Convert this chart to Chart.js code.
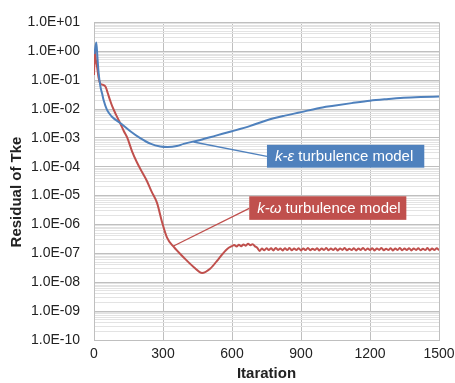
<!DOCTYPE html>
<html>
<head>
<meta charset="utf-8">
<script src="https://cdn.jsdelivr.net/npm/chart.js@4.4.1/dist/chart.umd.min.js"></script>
<style>
  body { margin: 0; background: #fff; }
  #wrap { width: 455px; height: 383px; }
</style>
</head>
<body>
<div id="wrap"><canvas id="residualChart"></canvas></div>
<script>
// k-epsilon residuals
const keIter = [2, 10, 15, 20, 28, 35, 42, 56, 78, 114, 158, 201, 245, 288, 320, 360, 390, 462, 530, 600,
  680, 752, 830, 900, 970, 1042, 1120, 1200, 1270, 1346, 1420, 1500];
const keVal = [0.8, 2.0, 0.6, 0.18, 0.06, 0.035, 0.02, 0.0095, 0.0054, 0.0033, 0.0017, 0.00098, 0.00063, 0.0005, 0.00048, 0.00052, 0.00062, 0.00085, 0.0012, 0.0017,
  0.0026, 0.0041, 0.0059, 0.0078, 0.0105, 0.013, 0.016, 0.0195, 0.022, 0.0245, 0.026, 0.027];

// k-omega residuals
const kwIter = [0, 4, 8, 13, 20, 28, 36, 45, 52, 60, 70, 80, 95, 114, 130, 145, 165, 187, 210, 230,
  250, 274, 296, 317, 346, 390, 433, 470, 506, 542, 578,
  600, 610, 620, 630, 640, 650, 660, 670, 680, 690, 700, 710, 720, 730, 740, 750, 760, 770, 780, 790,
  800, 810, 820, 830, 840, 850, 860, 870, 880, 890, 900, 910, 920, 930, 940, 950, 960, 970, 980, 990,
  1000, 1010, 1020, 1030, 1040, 1050, 1060, 1070, 1080, 1090, 1100, 1110, 1120, 1130, 1140, 1150, 1160, 1170, 1180, 1190,
  1200, 1210, 1220, 1230, 1240, 1250, 1260, 1270, 1280, 1290, 1300, 1310, 1320, 1330, 1340, 1350, 1360, 1370, 1380, 1390,
  1400, 1410, 1420, 1430, 1440, 1450, 1460, 1470, 1480, 1490, 1500];
const kwVal = [0.15, 1.1, 0.5, 0.3, 0.12, 0.075, 0.07, 0.065, 0.055, 0.035, 0.02, 0.012, 0.0065, 0.0032, 0.0017, 0.001, 0.00035, 0.00014, 6.3e-5, 3.2e-5,
  1.4e-5, 5.6e-6, 1.2e-6, 3.6e-7, 1.7e-7, 7.2e-8, 3.4e-8, 2.1e-8, 3.0e-8, 6.5e-8, 1.4e-7,
  1.80e-7, 1.95e-7, 1.72e-7, 2.00e-7, 1.78e-7, 2.05e-7, 1.85e-7, 2.15e-7, 1.92e-7, 2.08e-7, 1.75e-7, 1.55e-7, 1.22e-7, 1.48e-7, 1.28e-7, 1.52e-7, 1.30e-7, 1.50e-7, 1.27e-7, 1.55e-7,
  1.32e-7, 1.48e-7, 1.26e-7, 1.50e-7, 1.30e-7, 1.53e-7, 1.28e-7, 1.47e-7, 1.31e-7, 1.52e-7, 1.27e-7, 1.49e-7, 1.30e-7, 1.55e-7, 1.28e-7, 1.46e-7, 1.32e-7, 1.51e-7, 1.27e-7, 1.48e-7,
  1.30e-7, 1.54e-7, 1.29e-7, 1.47e-7, 1.31e-7, 1.50e-7, 1.26e-7, 1.49e-7, 1.32e-7, 1.53e-7, 1.28e-7, 1.46e-7, 1.30e-7, 1.52e-7, 1.27e-7, 1.48e-7, 1.31e-7, 1.55e-7, 1.29e-7, 1.47e-7,
  1.30e-7, 1.51e-7, 1.27e-7, 1.49e-7, 1.32e-7, 1.53e-7, 1.28e-7, 1.46e-7, 1.30e-7, 1.50e-7, 1.26e-7, 1.48e-7, 1.31e-7, 1.54e-7, 1.29e-7, 1.47e-7, 1.30e-7, 1.52e-7, 1.27e-7, 1.49e-7,
  1.32e-7, 1.51e-7, 1.28e-7, 1.46e-7, 1.30e-7, 1.53e-7, 1.27e-7, 1.48e-7, 1.31e-7, 1.50e-7, 1.29e-7];

// y axis decades and their labels
const yExps = [-10, -9, -8, -7, -6, -5, -4, -3, -2, -1, 0, 1];
const yLabels = ['1.0E-10', '1.0E-09', '1.0E-08', '1.0E-07', '1.0E-06', '1.0E-05', '1.0E-04', '1.0E-03', '1.0E-02', '1.0E-01', '1.0E+00', '1.0E+01'];
const xTicks = [0, 300, 600, 900, 1200, 1500];

const BLUE = '#4F81BD';
const RED = '#C0504D';
const FONT = '"Liberation Sans", Arial, sans-serif';

// callout boxes, positioned in data units
const callouts = [
  { italic: 'k-\u03b5', rest: ' turbulence model', color: BLUE, x0: 752, x1: 1436, yTop: 5.75e-4, yBot: 9.3e-5, from: [752, 2.3e-4], to: [433, 7.2e-4] },
  { italic: 'k-\u03c9', rest: ' turbulence model', color: RED, x0: 675, x1: 1358, yTop: 9.5e-6, yBot: 1.45e-6, from: [675, 3.6e-6], to: [346, 1.8e-7] }
];

function isDecade(v) {
  const e = Math.log10(v);
  return Math.abs(e - Math.round(e)) < 1e-6;
}

const calloutPlugin = {
  id: 'callouts',
  afterDatasetsDraw(chart) {
    const ctx = chart.ctx;
    const xs = chart.scales.x, ys = chart.scales.y;
    callouts.forEach(c => {
      ctx.save();
      ctx.strokeStyle = c.color;
      ctx.lineWidth = 1.3;
      ctx.beginPath();
      ctx.moveTo(xs.getPixelForValue(c.from[0]), ys.getPixelForValue(c.from[1]));
      ctx.lineTo(xs.getPixelForValue(c.to[0]), ys.getPixelForValue(c.to[1]));
      ctx.stroke();
      const l = xs.getPixelForValue(c.x0), r = xs.getPixelForValue(c.x1);
      const t = ys.getPixelForValue(c.yTop), b = ys.getPixelForValue(c.yBot);
      ctx.fillStyle = c.color;
      ctx.fillRect(l, t, r - l, b - t);
      ctx.fillStyle = '#fff';
      ctx.textBaseline = 'middle';
      ctx.font = 'italic 15px ' + FONT;
      const ty = (t + b) / 2 + 1;
      ctx.fillText(c.italic, l + 8, ty);
      const w = ctx.measureText(c.italic).width;
      ctx.font = '15px ' + FONT;
      ctx.fillText(c.rest, l + 8 + w, ty);
      ctx.restore();
    });
    // y axis title, a bit below the axis centre as in the original
    ctx.save();
    ctx.translate(17, 192);
    ctx.rotate(-Math.PI / 2);
    ctx.fillStyle = '#222';
    ctx.font = 'bold 15px ' + FONT;
    ctx.textAlign = 'center';
    ctx.textBaseline = 'middle';
    ctx.fillText('Residual of Tke', 0, 0);
    ctx.restore();
  }
};

new Chart(document.getElementById('residualChart'), {
  type: 'line',
  data: {
    datasets: [{
      label: 'k-\u03b5 turbulence model',
      data: keIter.map((x, i) => ({ x: x, y: keVal[i] })),
      borderColor: BLUE,
      borderWidth: 2,
      pointRadius: 0,
      cubicInterpolationMode: 'monotone'
    }, {
      label: 'k-\u03c9 turbulence model',
      data: kwIter.map((x, i) => ({ x: x, y: kwVal[i] })),
      borderColor: RED,
      borderWidth: 2,
      pointRadius: 0,
      cubicInterpolationMode: 'monotone'
    }]
  },
  options: {
    responsive: true,
    maintainAspectRatio: false,
    animation: false,
    layout: { padding: { top: 15, right: 16, left: 0, bottom: 0 } },
    plugins: { legend: { display: false }, tooltip: { enabled: false } },
    scales: {
      x: {
        type: 'linear',
        min: 0,
        max: 1500,
        afterBuildTicks: s => { s.ticks = xTicks.map(v => ({ value: v })); },
        afterFit: s => { s.height = 43; s.paddingRight = 0; s.paddingLeft = 0; },
        grid: { color: '#bfbfbf', drawTicks: false },
        border: { color: '#bfbfbf' },
        ticks: { padding: 6, color: '#222', font: { family: FONT, size: 14 }, callback: v => String(v) },
        title: { display: true, text: 'Itaration', color: '#222', padding: 0, font: { family: FONT, size: 15, weight: 'bold' } }
      },
      y: {
        type: 'logarithmic',
        min: 1e-10,
        max: 10,
        afterBuildTicks: s => {
          const ticks = [];
          yExps.forEach(e => {
            for (let m = 1; m <= 9; m++) {
              if (e === yExps[yExps.length - 1] && m > 1) break;
              ticks.push({ value: parseFloat(m + 'e' + e) });
            }
          });
          s.ticks = ticks;
        },
        afterFit: s => { s.width = 94; },
        grid: {
          drawTicks: false,
          color: c => (c.tick && isDecade(c.tick.value)) ? '#bfbfbf' : '#e3e3e3'
        },
        border: { color: '#bfbfbf' },
        ticks: {
          autoSkip: false,
          padding: 14,
          color: '#222',
          font: { family: FONT, size: 14 },
          callback: v => isDecade(v) ? yLabels[yExps.indexOf(Math.round(Math.log10(v)))] : ''
        },
        title: { display: false }
      }
    }
  },
  plugins: [calloutPlugin]
});
</script>
</body>
</html>
